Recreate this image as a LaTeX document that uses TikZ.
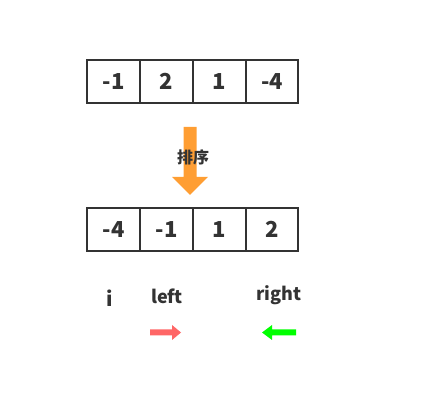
\documentclass[tikz,border=0pt]{standalone}
\usepackage{fontspec}
\setmainfont{Noto Sans CJK SC}
\definecolor{txt}{HTML}{333333}
\definecolor{org}{HTML}{FF9E33}
\definecolor{redarr}{HTML}{FF6666}
\definecolor{grnarr}{HTML}{00FF00}
\begin{document}
\begin{tikzpicture}[x=1pt,y=-1pt,
  cell/.style={draw=txt,line width=1.6pt,minimum width=53pt,minimum height=43pt,inner sep=0pt,outer sep=0pt,anchor=north west,
    font=\fontsize{22}{22}\selectfont\bfseries,text=txt},
  lbl/.style={font=\fontsize{18}{18}\selectfont\bfseries,text=txt}]
\useasboundingbox (0,0) rectangle (426,403);
% top row
\node[cell] (a1) at (87,60) {-1};
\node[cell] (a2) at (140,60) {2};
\node[cell] (a3) at (193,60) {1};
\node[cell,minimum width=52pt] (a4) at (246,60) {-4};
% sort arrow
\fill[org] (183.5,127) -- (196.5,127) -- (196.5,177) -- (208,177) -- (190,195) -- (172,177) -- (183.5,177) -- cycle;
\node[font=\fontsize{16}{16}\selectfont\bfseries,text=txt] (sort) at (193,157) {排序};
% bottom row
\node[cell] (b1) at (87,208) {-4};
\node[cell] (b2) at (140,208) {-1};
\node[cell] (b3) at (193,208) {1};
\node[cell,minimum width=52pt] (b4) at (246,208) {2};
% labels
\node[lbl,font=\fontsize{20}{20}\selectfont\bfseries] (i) at (110,298) {i};
\node[lbl] (left) at (167,296) {left};
\node[lbl] (right) at (279,295) {right};
% pointer arrows
\fill[redarr] (150,329.5) -- (172,329.5) -- (172,325) -- (181,332.5) -- (172,340) -- (172,335.5) -- (150,335.5) -- cycle;
\fill[grnarr] (296,329.5) -- (272,329.5) -- (272,325) -- (262,332.5) -- (272,340) -- (272,335.5) -- (296,335.5) -- cycle;
\end{tikzpicture}
\end{document}
